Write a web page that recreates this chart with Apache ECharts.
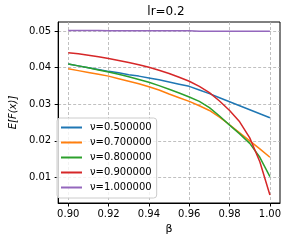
<!DOCTYPE html>
<html><head><meta charset="utf-8">
<script src="https://cdn.jsdelivr.net/npm/echarts@6/dist/echarts.min.js"></script>
<style>html,body{margin:0;padding:0;background:#fff}#c{width:291px;height:242px}</style>
</head><body><div id="c"></div>
<script>
const beta = [0.900,0.905,0.910,0.915,0.920,0.925,0.930,0.935,0.940,0.945,0.950,0.955,0.960,0.965,0.970,0.975,0.980,0.985,0.990,0.995,1.000];
const nu05 = [0.0410,0.0405,0.0400,0.0395,0.0390,0.0386,0.0381,0.0377,0.0372,0.0367,0.0361,0.0355,0.0349,0.0339,0.0329,0.0318,0.0307,0.0296,0.0285,0.0274,0.0263];
const nu07 = [0.0397,0.0392,0.0387,0.0382,0.0377,0.0370,0.0363,0.0356,0.0348,0.0339,0.0328,0.0318,0.0308,0.0296,0.0283,0.0265,0.0244,0.0222,0.0200,0.0178,0.0155];
const nu08 = [0.0410,0.0405,0.0400,0.0394,0.0388,0.0382,0.0375,0.0368,0.0360,0.0351,0.0341,0.0331,0.0320,0.0308,0.0291,0.0268,0.0243,0.0219,0.0193,0.0155,0.0102];
const nu09 = [0.0441,0.0438,0.0434,0.0430,0.0425,0.0420,0.0414,0.0408,0.0401,0.0393,0.0384,0.0374,0.0363,0.0349,0.0332,0.0309,0.0283,0.0252,0.0208,0.0143,0.0052];
const nu10 = [0.0502,0.0502,0.0502,0.0502,0.0501,0.0501,0.0501,0.0501,0.0501,0.0501,0.0501,0.0501,0.0501,0.0500,0.0500,0.0500,0.0500,0.0500,0.0500,0.0500,0.0500];
const seriesNames = ['ν=0.500000','ν=0.700000','ν=0.800000','ν=0.900000','ν=1.000000'];
const seriesData = [nu05, nu07, nu08, nu09, nu10];
const colors = ['#1f77b4','#ff7f0e','#2ca02c','#d62728','#9467bd'];
const xTicks = [0.90,0.92,0.94,0.96,0.98,1.00];
const yTicks = [0.01,0.02,0.03,0.04,0.05];

const font = 'DejaVu Sans';
const chart = echarts.init(document.getElementById('c'), null, {renderer:'canvas'});
chart.setOption({
  animation:false,
  color: colors,
  title:{text:'lr=0.2', top:6, padding:0, left:166, textAlign:'center', textStyle:{fontFamily:font, fontSize:12, fontWeight:'normal', color:'#000'}},
  grid:{left:53, right:11, top:22, bottom:39, show:true, borderColor:'#000', borderWidth:1, backgroundColor:'transparent'},
  legend:{
    orient:'vertical', left:57, top:118, padding:[2,5,3,4], itemGap:0,
    itemWidth:21, itemHeight:2, icon:'rect',
    backgroundColor:'rgba(255,255,255,0.8)', borderColor:'#cccccc', borderWidth:1, borderRadius:3,
    textStyle:{fontFamily:font, fontSize:10, color:'#000', lineHeight:15, padding:[0,0,0,3]},
    data: seriesNames
  },
  xAxis:{
    type:'value', min:0.895, max:1.005,
    name:'β', nameLocation:'middle', nameGap:19,
    nameTextStyle:{fontFamily:font, fontSize:11, color:'#000'},
    axisLine:{show:true, onZero:false, lineStyle:{color:'#000', width:1}},
    axisTick:{show:true, length:3.5, customValues:xTicks, lineStyle:{color:'#000'}},
    axisLabel:{customValues:xTicks, margin:6, fontFamily:font, fontSize:10, color:'#000', formatter:v=>v.toFixed(2)},
    splitLine:{show:true, lineStyle:{color:'#b0b0b0', type:[3,2], width:0.8}}
  },
  yAxis:{
    type:'value', min:0.003, max:0.0525,
    name:'E[F(x)]', nameLocation:'middle', nameGap:36,
    nameTextStyle:{fontFamily:font, fontSize:10, fontStyle:'italic', color:'#000'},
    axisLine:{show:true, onZero:false, lineStyle:{color:'#000', width:1}},
    axisTick:{show:true, length:3.5, customValues:yTicks, lineStyle:{color:'#000'}},
    axisLabel:{customValues:yTicks, margin:7, fontFamily:font, fontSize:10, color:'#000', formatter:v=>v.toFixed(2)},
    splitLine:{show:true, lineStyle:{color:'#b0b0b0', type:[3,2], width:0.8}}
  },
  series: seriesNames.map((n,i)=>({
    name:n, type:'line', showSymbol:false, smooth:false,
    lineStyle:{width:1.5, color:colors[i]}, itemStyle:{color:colors[i]},
    data: beta.map((b,j)=>[b, seriesData[i][j]])
  }))
});
</script></body></html>
